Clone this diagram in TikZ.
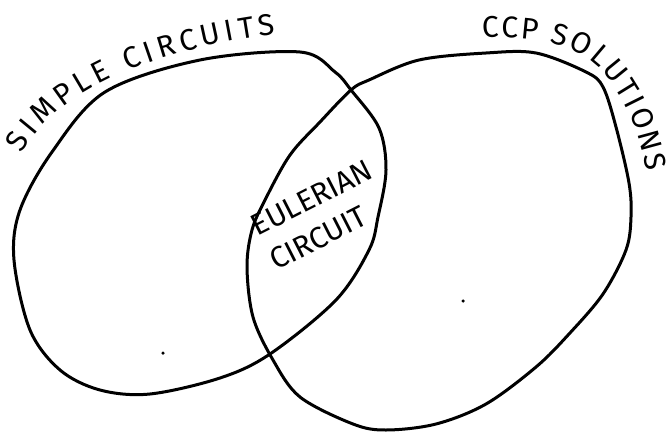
\documentclass[tikz,border=0pt]{standalone}
\usepackage{fontspec}
\setmainfont{Fira Sans}
\usetikzlibrary{decorations.text}
\newcommand\lblfont{\fontsize{30}{30}\selectfont}
\begin{document}
\begin{tikzpicture}[x=1pt,y=-1pt,
  outline/.style={line width=3pt, line join=round},
  inner/.style={font=\lblfont, inner sep=0pt, rotate=27},
  dotmark/.style={circle, fill=black, inner sep=0pt, minimum size=3.5pt}]
\useasboundingbox (0,0) rectangle (672,434);
% simple circuits
\draw[outline] plot[smooth cycle, tension=0.55] coordinates {
 (300,52) (335,72) (351,90) (379,128) (386,170) (378,217) (369,250) (336,300)
 (270,354) (220,378) (150,394) (100,390) (60,370) (30,330) (14,260) (20,210)
 (52,152) (105,92) (200,60)};
% ccp solutions
\draw[outline] plot[smooth cycle, tension=0.55] coordinates {
 (369,80) (419,60) (486,53) (536,53) (586,72) (603,87) (616,127) (629,183)
 (631,217) (626,250) (603,294) (569,334) (536,367) (486,404) (436,424)
 (386,430) (353,424) (300,397) (273,360) (253,317) (247,267) (252,230)
 (265,200) (290,155) (320,122) (351,90)};
% labels
\path[decorate, decoration={text along path, text align={fit to path},
  text={|\lblfont|SIMPLE CIRCUITS}}]
  (22,154) .. controls (55,92) and (150,50) .. (276,34);
\path[decorate, decoration={text along path, text align={fit to path},
  text={|\lblfont|CCP SOLUTIONS}}]
  (482,38) .. controls (540,36) and (572,44) .. (595,64)
  .. controls (622,90) and (638,124) .. (646,172);
\node[inner] (eul) at (312,198) {EULERIAN};
\node[inner] (cir) at (318,238) {CIRCUIT};
\node[dotmark] (d1) at (163,353) {};
\node[dotmark] (d2) at (463,301) {};
\end{tikzpicture}
\end{document}
